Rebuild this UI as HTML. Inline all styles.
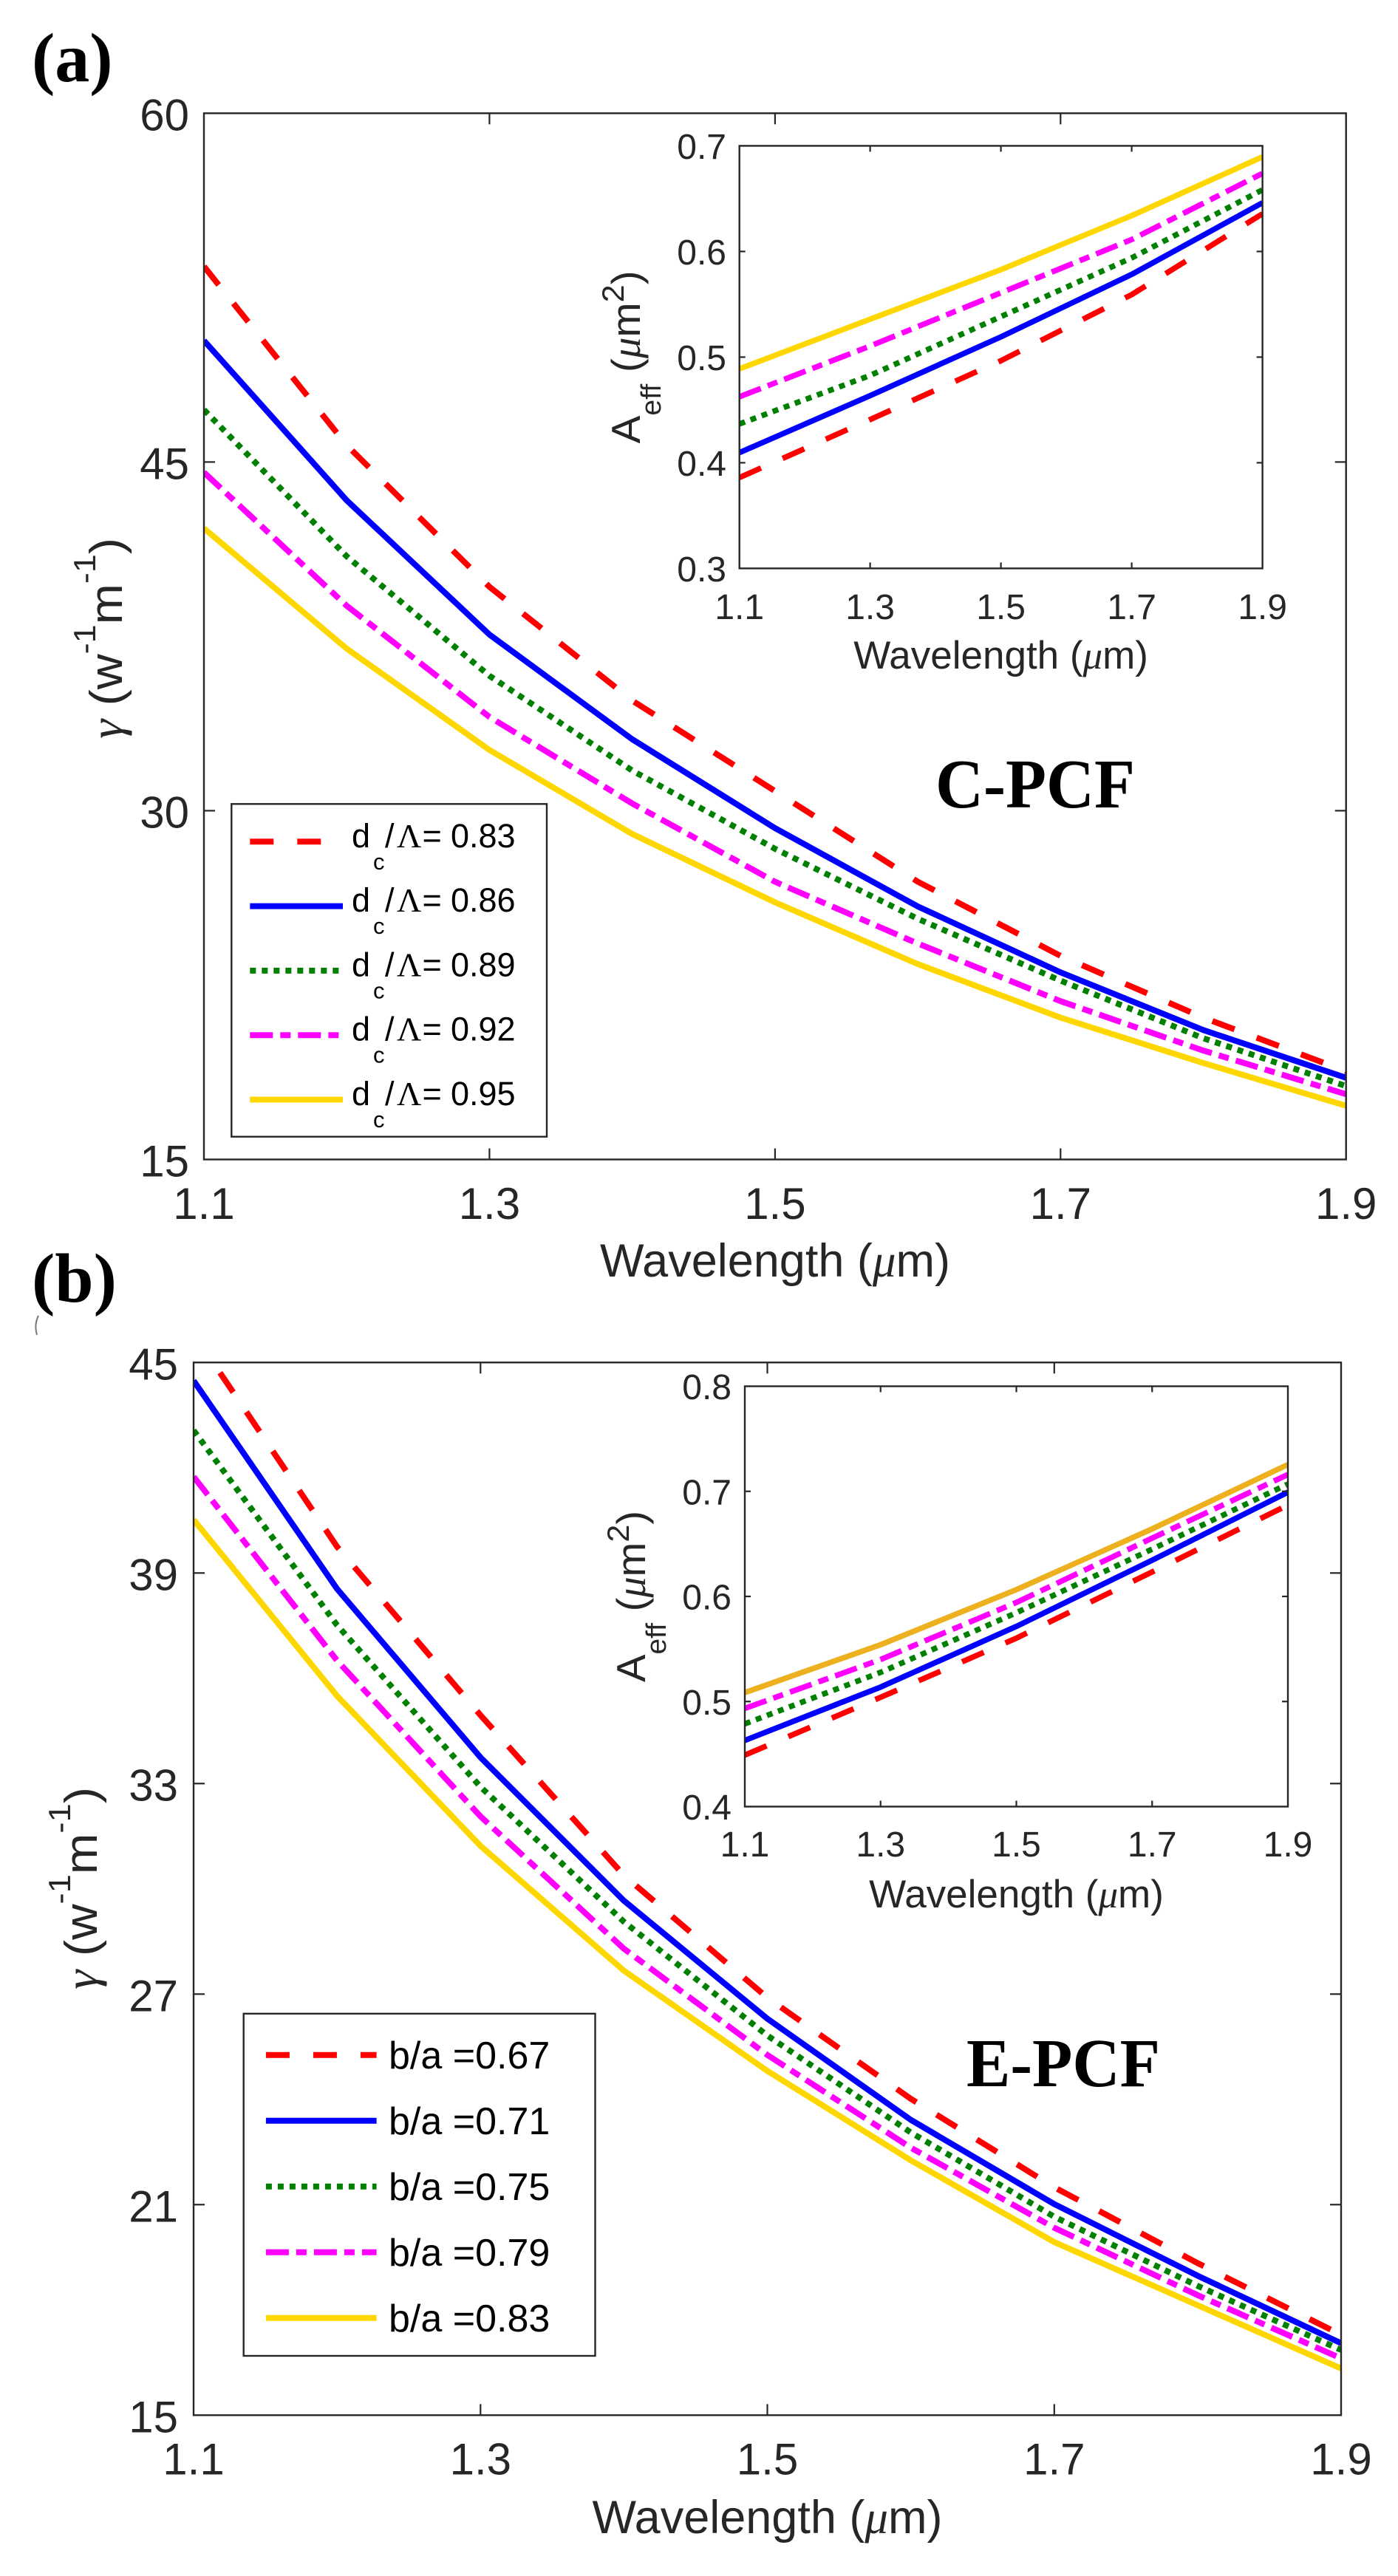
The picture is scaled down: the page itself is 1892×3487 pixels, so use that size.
<!DOCTYPE html>
<html>
<head>
<meta charset="utf-8">
<style>
  html,body{margin:0;padding:0;background:#fff;}
  svg{display:block;}
  .ln{fill:none;stroke-width:8;stroke-linejoin:round;stroke-linecap:butt;}
  .il{fill:none;stroke-width:7.5;stroke-linejoin:round;stroke-linecap:butt;}
  .r{stroke:#ff0000;stroke-dasharray:32 32;}
  .b{stroke:#0000ff;}
  .g{stroke:#008000;stroke-dasharray:8 8;}
  .m{stroke:#ff00ff;stroke-dasharray:31 10 14 10;}
  .y{stroke:#ffd700;}
  .y2{stroke:#edb120;}
  .ax{fill:none;stroke:#262626;stroke-width:2.4;}
  .tk{stroke:#262626;stroke-width:2.2;}
  .t{fill:#262626;}
</style>
</head>
<body>
<svg width="1892" height="3487" viewBox="0 0 1892 3487" xmlns="http://www.w3.org/2000/svg" font-family="'Liberation Sans', Arial, sans-serif">
<rect x="0" y="0" width="1892" height="3487" fill="#ffffff"/>
<defs>
  <clipPath id="ca"><rect x="276" y="153.3" width="1545.7" height="1416.2"/></clipPath>
  <clipPath id="cb"><rect x="262" y="1844.3" width="1553" height="1425"/></clipPath>
  <clipPath id="cia"><rect x="1000.7" y="197.4" width="707.9" height="572"/></clipPath>
  <clipPath id="cib"><rect x="1008" y="1876.5" width="735" height="569"/></clipPath>
</defs>

<!-- ===================== PANEL (a) ===================== -->
<text x="43" y="110" font-family="'Liberation Serif', 'Times New Roman', serif" font-weight="bold" font-size="94" fill="#000">(a)</text>

<g clip-path="url(#ca)">
  <polyline class="ln y" points="276,715.2 469.2,878 662.4,1015.2 855.6,1128.9 1048.9,1221.4 1242.1,1305 1435.3,1377.5 1628.5,1438.9 1821.7,1496.8"/>
  <polyline class="ln m" points="276,639.4 469.2,820 662.4,970.5 855.6,1087.6 1048.9,1193.6 1242.1,1277.2 1435.3,1355.2 1628.5,1422.1 1821.7,1481.2"/>
  <polyline class="ln g" points="276,554.7 469.2,753.1 662.4,914.8 855.6,1043 1048.9,1149 1242.1,1243.7 1435.3,1327.4 1628.5,1405.4 1821.7,1470.1"/>
  <polyline class="ln b" points="276,461 469.2,677.3 662.4,859 855.6,1000.7 1048.9,1121 1242.1,1227 1435.3,1316.2 1628.5,1394.3 1821.7,1458.9"/>
  <polyline class="ln r" points="276,360.6 469.2,602.6 662.4,794.4 855.6,948.3 1048.9,1070.9 1242.1,1193.5 1435.3,1293.9 1628.5,1377.5 1821.7,1450"/>
</g>

<rect class="ax" x="276" y="153.3" width="1545.7" height="1416.2"/>
<g class="tk">
  <line x1="662.4" y1="1569.5" x2="662.4" y2="1554.5"/>
  <line x1="1048.9" y1="1569.5" x2="1048.9" y2="1554.5"/>
  <line x1="1435.3" y1="1569.5" x2="1435.3" y2="1554.5"/>
  <line x1="662.4" y1="153.3" x2="662.4" y2="168.3"/>
  <line x1="1048.9" y1="153.3" x2="1048.9" y2="168.3"/>
  <line x1="1435.3" y1="153.3" x2="1435.3" y2="168.3"/>
  <line x1="276" y1="1097.4" x2="291" y2="1097.4"/>
  <line x1="276" y1="625.4" x2="291" y2="625.4"/>
  <line x1="1821.7" y1="1097.4" x2="1806.7" y2="1097.4"/>
  <line x1="1821.7" y1="625.4" x2="1806.7" y2="625.4"/>
</g>
<g class="t" font-size="60">
  <text x="256" y="176.3" text-anchor="end">60</text>
  <text x="256" y="648.4" text-anchor="end">45</text>
  <text x="256" y="1120.4" text-anchor="end">30</text>
  <text x="256" y="1592.5" text-anchor="end">15</text>
  <text x="276" y="1650" text-anchor="middle">1.1</text>
  <text x="662.4" y="1650" text-anchor="middle">1.3</text>
  <text x="1048.9" y="1650" text-anchor="middle">1.5</text>
  <text x="1435.3" y="1650" text-anchor="middle">1.7</text>
  <text x="1821.7" y="1650" text-anchor="middle">1.9</text>
</g>
<text class="t" x="1049" y="1728" text-anchor="middle" font-size="63">Wavelength (<tspan font-family="'Liberation Serif', serif" font-style="italic">μ</tspan>m)</text>
<text class="t" transform="translate(165,864) rotate(-90)" text-anchor="middle" font-size="62" textLength="272" lengthAdjust="spacingAndGlyphs"><tspan font-family="'Liberation Serif', serif" font-style="italic">γ</tspan> (w<tspan dy="-36" font-size="42">-1</tspan><tspan dy="36" font-size="62">m</tspan><tspan dy="-36" font-size="42">-1</tspan><tspan dy="36" font-size="62">)</tspan></text>

<text x="1266" y="1093" font-family="'Liberation Serif', 'Times New Roman', serif" font-weight="bold" font-size="94" fill="#000" textLength="270" lengthAdjust="spacingAndGlyphs">C-PCF</text>

<!-- legend a -->
<rect x="313.3" y="1088.3" width="426.7" height="450.4" fill="#ffffff" stroke="#262626" stroke-width="2.4"/>
<g>
  <line class="ln r" x1="338.3" y1="1139.3" x2="464" y2="1139.3"/>
  <line class="ln b" x1="338.3" y1="1226.6" x2="464" y2="1226.6"/>
  <line class="ln g" x1="338.3" y1="1313.9" x2="464" y2="1313.9"/>
  <line class="ln m" x1="338.3" y1="1401.2" x2="464" y2="1401.2"/>
  <line class="ln y" x1="338.3" y1="1488.5" x2="464" y2="1488.5"/>
</g>
<g fill="#000" font-size="45">
  <text x="476" y="1146.8">d</text><text x="505" y="1176.8" font-size="31">c</text><text x="521" y="1146.8">/</text><text x="537" y="1146.8" font-family="'Liberation Serif', serif" font-size="46">Λ</text><text x="571.5" y="1146.8">=</text><text x="610" y="1146.8">0.83</text>
  <text x="476" y="1234.1">d</text><text x="505" y="1264.1" font-size="31">c</text><text x="521" y="1234.1">/</text><text x="537" y="1234.1" font-family="'Liberation Serif', serif" font-size="46">Λ</text><text x="571.5" y="1234.1">=</text><text x="610" y="1234.1">0.86</text>
  <text x="476" y="1321.4">d</text><text x="505" y="1351.4" font-size="31">c</text><text x="521" y="1321.4">/</text><text x="537" y="1321.4" font-family="'Liberation Serif', serif" font-size="46">Λ</text><text x="571.5" y="1321.4">=</text><text x="610" y="1321.4">0.89</text>
  <text x="476" y="1408.7">d</text><text x="505" y="1438.7" font-size="31">c</text><text x="521" y="1408.7">/</text><text x="537" y="1408.7" font-family="'Liberation Serif', serif" font-size="46">Λ</text><text x="571.5" y="1408.7">=</text><text x="610" y="1408.7">0.92</text>
  <text x="476" y="1496">d</text><text x="505" y="1526" font-size="31">c</text><text x="521" y="1496">/</text><text x="537" y="1496" font-family="'Liberation Serif', serif" font-size="46">Λ</text><text x="571.5" y="1496">=</text><text x="610" y="1496">0.95</text>
</g>

<!-- inset a -->
<rect x="1000.7" y="197.4" width="707.9" height="572" fill="#ffffff"/>
<g clip-path="url(#cia)">
  <polyline class="il y" points="1000.7,499.3 1177.6,432.1 1354.6,365 1531.6,291.9 1708.6,212.3"/>
  <polyline class="il m" points="1000.7,537.1 1177.6,468.4 1354.6,396.3 1531.6,324.2 1708.6,234.7"/>
  <polyline class="il g" points="1000.7,573.9 1177.6,508.2 1354.6,428.6 1531.6,349.1 1708.6,257"/>
  <polyline class="il b" points="1000.7,612.7 1177.6,535.6 1354.6,456 1531.6,371.4 1708.6,274.5"/>
  <polyline class="il r" points="1000.7,646.5 1177.6,567.9 1354.6,488.3 1531.6,398.8 1708.6,289.4"/>
</g>
<rect class="ax" x="1000.7" y="197.4" width="707.9" height="572"/>
<g class="tk">
  <line x1="1177.6" y1="769.4" x2="1177.6" y2="761.4"/>
  <line x1="1354.6" y1="769.4" x2="1354.6" y2="761.4"/>
  <line x1="1531.6" y1="769.4" x2="1531.6" y2="761.4"/>
  <line x1="1177.6" y1="197.4" x2="1177.6" y2="205.4"/>
  <line x1="1354.6" y1="197.4" x2="1354.6" y2="205.4"/>
  <line x1="1531.6" y1="197.4" x2="1531.6" y2="205.4"/>
  <line x1="1000.7" y1="626.4" x2="1008.7" y2="626.4"/>
  <line x1="1000.7" y1="483.4" x2="1008.7" y2="483.4"/>
  <line x1="1000.7" y1="340.4" x2="1008.7" y2="340.4"/>
  <line x1="1708.6" y1="626.4" x2="1700.6" y2="626.4"/>
  <line x1="1708.6" y1="483.4" x2="1700.6" y2="483.4"/>
  <line x1="1708.6" y1="340.4" x2="1700.6" y2="340.4"/>
</g>
<g class="t" font-size="48">
  <text x="983" y="214.9" text-anchor="end">0.7</text>
  <text x="983" y="357.9" text-anchor="end">0.6</text>
  <text x="983" y="500.9" text-anchor="end">0.5</text>
  <text x="983" y="643.9" text-anchor="end">0.4</text>
  <text x="983" y="786.9" text-anchor="end">0.3</text>
  <text x="1000.7" y="838" text-anchor="middle">1.1</text>
  <text x="1177.6" y="838" text-anchor="middle">1.3</text>
  <text x="1354.6" y="838" text-anchor="middle">1.5</text>
  <text x="1531.6" y="838" text-anchor="middle">1.7</text>
  <text x="1708.6" y="838" text-anchor="middle">1.9</text>
</g>
<text class="t" x="1354.6" y="905" text-anchor="middle" font-size="53">Wavelength (<tspan font-family="'Liberation Serif', serif" font-style="italic">μ</tspan>m)</text>
<text class="t" transform="translate(866,483.4) rotate(-90)" text-anchor="middle" font-size="55" textLength="234" lengthAdjust="spacingAndGlyphs">A<tspan dy="28" font-size="38">eff</tspan><tspan dy="-28" font-size="55"> (</tspan><tspan font-family="'Liberation Serif', serif" font-style="italic">μ</tspan>m<tspan dy="-22" font-size="42">2</tspan><tspan dy="22" font-size="55">)</tspan></text>

<!-- ===================== PANEL (b) ===================== -->
<text x="43" y="1762" font-family="'Liberation Serif', 'Times New Roman', serif" font-weight="bold" font-size="94" fill="#000">(b)</text>
<path d="M52,1781 Q46,1793 50,1807" fill="none" stroke="#777" stroke-width="2"/>

<g clip-path="url(#cb)">
  <polyline class="ln y" points="262,2057.1 456.1,2295.6 650.3,2498.7 844.4,2667.6 1038.5,2803.3 1232.6,2924.3 1426.8,3035 1620.9,3120.5 1815,3206.1"/>
  <polyline class="ln m" points="262,1998.9 456.1,2247.7 650.3,2458.8 844.4,2637.9 1038.5,2781.7 1232.6,2907.2 1426.8,3015.6 1620.9,3106.9 1815,3192.4"/>
  <polyline class="ln g" points="262,1936.2 456.1,2199.8 650.3,2418.8 844.4,2601.4 1038.5,2755.4 1232.6,2886.6 1426.8,3000.7 1620.9,3094.3 1815,3181"/>
  <polyline class="ln b" points="262,1868.9 456.1,2150.7 650.3,2378.9 844.4,2572.9 1038.5,2732.6 1232.6,2869.5 1426.8,2983.6 1620.9,3080.6 1815,3171.9"/>
  <polyline class="ln r" points="262,1805 456.1,2093.6 650.3,2321.8 844.4,2538.6 1038.5,2704.1 1232.6,2841 1426.8,2960.8 1620.9,3063.5 1815,3160.5"/>
</g>

<rect class="ax" x="262" y="1844.3" width="1553" height="1425"/>
<g class="tk">
  <line x1="650.3" y1="3269.3" x2="650.3" y2="3254.3"/>
  <line x1="1038.5" y1="3269.3" x2="1038.5" y2="3254.3"/>
  <line x1="1426.8" y1="3269.3" x2="1426.8" y2="3254.3"/>
  <line x1="650.3" y1="1844.3" x2="650.3" y2="1859.3"/>
  <line x1="1038.5" y1="1844.3" x2="1038.5" y2="1859.3"/>
  <line x1="1426.8" y1="1844.3" x2="1426.8" y2="1859.3"/>
  <line x1="262" y1="2984.3" x2="277" y2="2984.3"/>
  <line x1="262" y1="2699.3" x2="277" y2="2699.3"/>
  <line x1="262" y1="2414.3" x2="277" y2="2414.3"/>
  <line x1="262" y1="2129.3" x2="277" y2="2129.3"/>
  <line x1="1815" y1="2984.3" x2="1800" y2="2984.3"/>
  <line x1="1815" y1="2699.3" x2="1800" y2="2699.3"/>
  <line x1="1815" y1="2414.3" x2="1800" y2="2414.3"/>
  <line x1="1815" y1="2129.3" x2="1800" y2="2129.3"/>
</g>
<g class="t" font-size="60">
  <text x="241" y="1867.3" text-anchor="end">45</text>
  <text x="241" y="2152.3" text-anchor="end">39</text>
  <text x="241" y="2437.3" text-anchor="end">33</text>
  <text x="241" y="2722.3" text-anchor="end">27</text>
  <text x="241" y="3007.3" text-anchor="end">21</text>
  <text x="241" y="3292.3" text-anchor="end">15</text>
  <text x="262" y="3349.5" text-anchor="middle">1.1</text>
  <text x="650.3" y="3349.5" text-anchor="middle">1.3</text>
  <text x="1038.5" y="3349.5" text-anchor="middle">1.5</text>
  <text x="1426.8" y="3349.5" text-anchor="middle">1.7</text>
  <text x="1815" y="3349.5" text-anchor="middle">1.9</text>
</g>
<text class="t" x="1038.5" y="3429" text-anchor="middle" font-size="63">Wavelength (<tspan font-family="'Liberation Serif', serif" font-style="italic">μ</tspan>m)</text>
<text class="t" transform="translate(131,2556) rotate(-90)" text-anchor="middle" font-size="62" textLength="274" lengthAdjust="spacingAndGlyphs"><tspan font-family="'Liberation Serif', serif" font-style="italic">γ</tspan> (w<tspan dy="-36" font-size="42">-1</tspan><tspan dy="36" font-size="62">m</tspan><tspan dy="-36" font-size="42">-1</tspan><tspan dy="36" font-size="62">)</tspan></text>

<text x="1308" y="2824" font-family="'Liberation Serif', 'Times New Roman', serif" font-weight="bold" font-size="93" fill="#000" textLength="262" lengthAdjust="spacingAndGlyphs">E-PCF</text>

<!-- legend b -->
<rect x="329.7" y="2725.8" width="475.8" height="463.2" fill="#ffffff" stroke="#262626" stroke-width="2.4"/>
<g>
  <line class="ln r" x1="359.9" y1="2781.7" x2="509.6" y2="2781.7"/>
  <line class="ln b" x1="359.9" y1="2870.7" x2="509.6" y2="2870.7"/>
  <line class="ln g" x1="359.9" y1="2959.7" x2="509.6" y2="2959.7"/>
  <line class="ln m" x1="359.9" y1="3048.7" x2="509.6" y2="3048.7"/>
  <line class="ln y" x1="359.9" y1="3137.7" x2="509.6" y2="3137.7"/>
</g>
<g fill="#000" font-size="52">
  <text x="526" y="2800.2">b/a =0.67</text>
  <text x="526" y="2889.2">b/a =0.71</text>
  <text x="526" y="2978.2">b/a =0.75</text>
  <text x="526" y="3067.2">b/a =0.79</text>
  <text x="526" y="3156.2">b/a =0.83</text>
</g>

<!-- inset b -->
<rect x="1008" y="1876.5" width="735" height="569" fill="#ffffff"/>
<g clip-path="url(#cib)">
  <polyline class="il y2" points="1008,2291.2 1191.75,2226.4 1375.5,2151.8 1559.25,2069.6 1743,1982.5"/>
  <polyline class="il m" points="1008,2312.6 1191.75,2246.4 1375.5,2169.2 1559.25,2082.1 1743,1996"/>
  <polyline class="il g" points="1008,2333.5 1191.75,2263.8 1375.5,2183.1 1559.25,2097 1743,2008.9"/>
  <polyline class="il b" points="1008,2355.9 1191.75,2283.7 1375.5,2201.6 1559.25,2112 1743,2019.9"/>
  <polyline class="il r" points="1008,2375.8 1191.75,2297.6 1375.5,2217.5 1559.25,2127.9 1743,2037.3"/>
</g>
<rect class="ax" x="1008" y="1876.5" width="735" height="569"/>
<g class="tk">
  <line x1="1191.75" y1="2445.5" x2="1191.75" y2="2437.5"/>
  <line x1="1375.5" y1="2445.5" x2="1375.5" y2="2437.5"/>
  <line x1="1559.25" y1="2445.5" x2="1559.25" y2="2437.5"/>
  <line x1="1191.75" y1="1876.5" x2="1191.75" y2="1884.5"/>
  <line x1="1375.5" y1="1876.5" x2="1375.5" y2="1884.5"/>
  <line x1="1559.25" y1="1876.5" x2="1559.25" y2="1884.5"/>
  <line x1="1008" y1="2303.25" x2="1016" y2="2303.25"/>
  <line x1="1008" y1="2161" x2="1016" y2="2161"/>
  <line x1="1008" y1="2018.75" x2="1016" y2="2018.75"/>
  <line x1="1743" y1="2303.25" x2="1735" y2="2303.25"/>
  <line x1="1743" y1="2161" x2="1735" y2="2161"/>
  <line x1="1743" y1="2018.75" x2="1735" y2="2018.75"/>
</g>
<g class="t" font-size="48">
  <text x="990" y="1894" text-anchor="end">0.8</text>
  <text x="990" y="2036.25" text-anchor="end">0.7</text>
  <text x="990" y="2178.5" text-anchor="end">0.6</text>
  <text x="990" y="2320.75" text-anchor="end">0.5</text>
  <text x="990" y="2463" text-anchor="end">0.4</text>
  <text x="1008" y="2513" text-anchor="middle">1.1</text>
  <text x="1191.75" y="2513" text-anchor="middle">1.3</text>
  <text x="1375.5" y="2513" text-anchor="middle">1.5</text>
  <text x="1559.25" y="2513" text-anchor="middle">1.7</text>
  <text x="1743" y="2513" text-anchor="middle">1.9</text>
</g>
<text class="t" x="1375.5" y="2582" text-anchor="middle" font-size="53">Wavelength (<tspan font-family="'Liberation Serif', serif" font-style="italic">μ</tspan>m)</text>
<text class="t" transform="translate(873,2161) rotate(-90)" text-anchor="middle" font-size="55" textLength="232" lengthAdjust="spacingAndGlyphs">A<tspan dy="28" font-size="38">eff</tspan><tspan dy="-28" font-size="55"> (</tspan><tspan font-family="'Liberation Serif', serif" font-style="italic">μ</tspan>m<tspan dy="-22" font-size="42">2</tspan><tspan dy="22" font-size="55">)</tspan></text>

</svg>
</body>
</html>
